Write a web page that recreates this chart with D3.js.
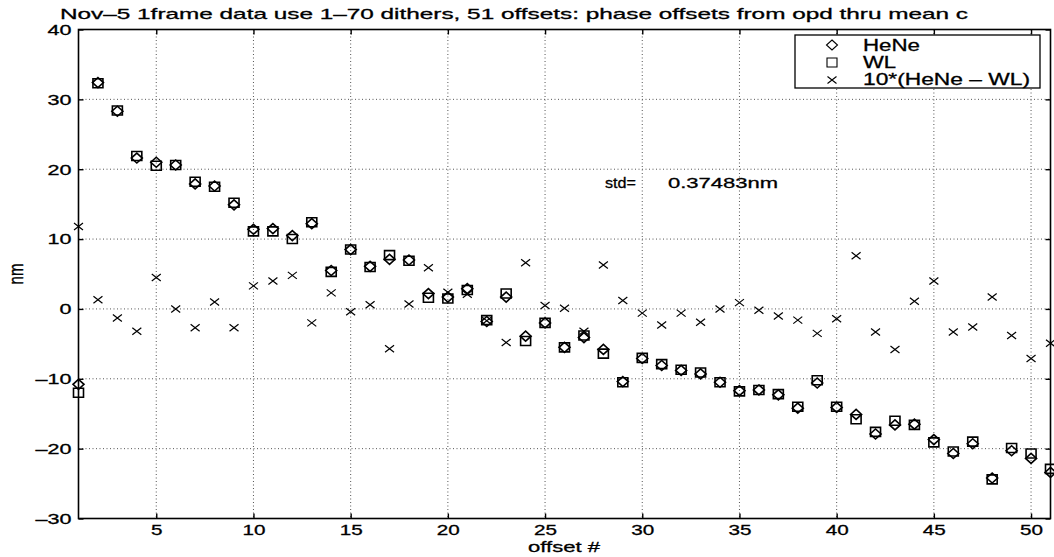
<!DOCTYPE html>
<html>
<head>
<meta charset="utf-8">
<script src="https://cdn.jsdelivr.net/npm/d3@7"></script>
<style>
  body { margin: 0; background: #fff; }
  svg { display: block; font-family: "Liberation Sans", Arial, sans-serif; }
</style>
</head>
<body>
<div id="chart"></div>
<script>

// values, offset # 1..51
var hene = [-10.8, 32.4, 28.3, 21.6, 21.0, 20.6, 17.9, 17.6, 14.9, 11.4,
            11.5, 10.5, 12.2, 5.5, 8.5, 6.1, 7.1, 7.0, 2.2, 1.7,
            2.9, -1.8, 1.7, -3.9, -2.0, -5.5, -4.1, -5.8, -10.4, -7.1,
            -8.1, -8.8, -9.3, -10.5, -11.7, -11.6, -12.3, -14.2, -10.6, -14.1,
            -15.1, -17.9, -16.6, -16.5, -18.7, -20.7, -19.3, -24.2, -20.3, -21.4,
            -23.4];
var wl   = [-12.0, 32.3, 28.4, 21.9, 20.5, 20.6, 18.2, 17.5, 15.2, 11.1,
            11.1, 10.0, 12.4, 5.3, 8.5, 6.0, 7.7, 6.9, 1.6, 1.5,
            2.7, -1.6, 2.2, -4.6, -2.0, -5.5, -3.8, -6.4, -10.5, -7.0,
            -7.9, -8.7, -9.1, -10.5, -11.8, -11.6, -12.2, -14.0, -10.2, -14.0,
            -15.8, -17.6, -16.0, -16.6, -19.1, -20.4, -19.0, -24.4, -19.9, -20.7,
            -22.9];
var diff10 = [11.8, 1.3, -1.3, -3.2, 4.5, 0.0, -2.7, 1.0, -2.7, 3.3,
              4.0, 4.8, -2.0, 2.3, -0.4, 0.6, -5.7, 0.7, 5.9, 2.4,
              2.1, -1.7, -4.8, 6.6, 0.5, 0.1, -3.2, 6.3, 1.2, -0.6,
              -2.3, -0.6, -1.9, 0.0, 0.9, -0.2, -1.0, -1.6, -3.5, -1.4,
              7.6, -3.3, -5.8, 1.1, 4.0, -3.3, -2.6, 1.7, -3.8, -7.1,
              -4.9];

var xTicks = [5, 10, 15, 20, 25, 30, 35, 40, 45, 50];
var yTicks = [-30, -20, -10, 0, 10, 20, 30, 40];
var legendLabels = ["HeNe", "WL", "10*(HeNe \u2013 WL)"];
var titleText = "Nov\u20135 1frame data use 1\u201370 dithers, 51 offsets: phase offsets from opd thru mean c";
var stdValue = "0.37483nm";

var width = 1054,
    height = 557,
    plotLeft = 78.5, plotRight = 1050.5, plotTop = 29.5, plotBottom = 518.5;

var svg = d3.select("#chart").append("svg")
    .attr("width", width)
    .attr("height", height);

var x = d3.scaleLinear().domain([1, 51]).range([plotLeft, plotRight]);
var y = d3.scaleLinear().domain([-30, 40]).range([plotBottom, plotTop]);

// dotted grid
var grid = svg.append("g")
    .style("stroke", "#555")
    .style("stroke-width", "1px")
    .style("stroke-dasharray", "1,2.5");

grid.selectAll("line.vx")
    .data(xTicks)
  .enter().append("line")
    .attr("class", "vx")
    .attr("x1", function(d) { return x(d); })
    .attr("x2", function(d) { return x(d); })
    .attr("y1", plotTop)
    .attr("y2", plotBottom);

grid.selectAll("line.hy")
    .data(yTicks.filter(function(d) { return d > -30 && d < 40; }))
  .enter().append("line")
    .attr("class", "hy")
    .attr("x1", plotLeft)
    .attr("x2", plotRight)
    .attr("y1", function(d) { return y(d); })
    .attr("y2", function(d) { return y(d); });

// axes, ticks pointing inward
function styleAxis(g) {
  g.select(".domain").remove();
  g.selectAll(".tick line").style("stroke", "#000").style("stroke-width", "1.4px");
  g.selectAll("text")
    .style("font-size", "15px")
    .style("fill", "#000")
    .style("stroke", "#000")
    .style("stroke-width", "0.3px")
    .attr("font-family", "Liberation Sans, Arial, sans-serif");
}

var fmt = function(d) { return d < 0 ? "\u2013" + Math.abs(d) : "" + d; };

var xAxis = svg.append("g")
    .attr("transform", "translate(0," + plotBottom + ")")
    .call(d3.axisBottom(x).tickValues(xTicks).tickSizeInner(-5).tickSizeOuter(0).tickPadding(6).tickFormat(fmt));
styleAxis(xAxis);
xAxis.selectAll("text")
    .attr("textLength", function(d) { return fmt(d).length * 11.5; })
    .attr("lengthAdjust", "spacingAndGlyphs");

var yAxis = svg.append("g")
    .attr("transform", "translate(" + plotLeft + ",0)")
    .call(d3.axisLeft(y).tickValues(yTicks).tickSizeInner(-5).tickSizeOuter(0).tickPadding(7).tickFormat(fmt));
styleAxis(yAxis);
yAxis.selectAll("text")
    .attr("textLength", function(d) { return fmt(d).length * 12; })
    .attr("lengthAdjust", "spacingAndGlyphs");

var topAxis = svg.append("g")
    .attr("transform", "translate(0," + plotTop + ")")
    .call(d3.axisTop(x).tickValues(xTicks).tickSizeInner(-5).tickSizeOuter(0).tickFormat(""));
styleAxis(topAxis);

var rightAxis = svg.append("g")
    .attr("transform", "translate(" + plotRight + ",0)")
    .call(d3.axisRight(y).tickValues(yTicks).tickSizeInner(-5).tickSizeOuter(0).tickFormat(""));
styleAxis(rightAxis);

svg.append("rect")
    .attr("x", plotLeft)
    .attr("y", plotTop)
    .attr("width", plotRight - plotLeft)
    .attr("height", plotBottom - plotTop)
    .style("fill", "none")
    .style("stroke", "#000")
    .style("stroke-width", "1.6px");

// marker shapes
function diamond(cx, cy) {
  return "M" + cx + "," + (cy - 5) + "L" + (cx + 5.5) + "," + cy + "L" + cx + "," + (cy + 5) + "L" + (cx - 5.5) + "," + cy + "Z";
}
function square(cx, cy) {
  return "M" + (cx - 5) + "," + (cy - 4.5) + "h10v9h-10Z";
}
function cross(cx, cy) {
  return "M" + (cx - 4.5) + "," + (cy - 3.5) + "L" + (cx + 4.5) + "," + (cy + 3.5) +
         "M" + (cx - 4.5) + "," + (cy + 3.5) + "L" + (cx + 4.5) + "," + (cy - 3.5);
}

var marks = svg.append("g")
    .style("fill", "none")
    .style("stroke", "#000")
    .style("stroke-width", "1.6px");

marks.selectAll("path.hene")
    .data(hene)
  .enter().append("path")
    .attr("class", "hene")
    .attr("d", function(d, i) { return diamond(x(i + 1), y(d)); });

marks.selectAll("path.wl")
    .data(wl)
  .enter().append("path")
    .attr("class", "wl")
    .attr("d", function(d, i) { return square(x(i + 1), y(d)); });

marks.selectAll("path.diff")
    .data(diff10)
  .enter().append("path")
    .attr("class", "diff")
    .style("stroke-width", "1.2px")
    .attr("d", function(d, i) { return cross(x(i + 1), y(d)); });

// text helper style: slightly heavy like the scan
function inked(sel, size) {
  return sel.style("font-size", size + "px")
    .style("fill", "#000")
    .style("stroke", "#000")
    .style("stroke-width", "0.3px");
}

// std annotation
var std = inked(svg.append("text").attr("y", 188), 15);
std.append("tspan")
    .attr("x", 605)
    .attr("textLength", 31)
    .attr("lengthAdjust", "spacingAndGlyphs")
    .text("std=");
std.append("tspan")
    .attr("x", 668)
    .attr("textLength", 110)
    .attr("lengthAdjust", "spacingAndGlyphs")
    .text(stdValue);

// legend
var legend = svg.append("g");
legend.append("rect")
    .attr("x", 795)
    .attr("y", 35)
    .attr("width", 245)
    .attr("height", 53)
    .style("fill", "#fff")
    .style("stroke", "#000")
    .style("stroke-width", "1.3px");

var legendShapes = [diamond, square, cross];
var legendWidths = [57, 33, 167];

legend.selectAll("path")
    .data(legendLabels)
  .enter().append("path")
    .attr("d", function(d, i) { return legendShapes[i](832, 45 + i * 17.5); })
    .style("fill", "none")
    .style("stroke", "#000")
    .style("stroke-width", "1.1px");

inked(legend.selectAll("text")
    .data(legendLabels)
  .enter().append("text")
    .attr("x", 863)
    .attr("y", function(d, i) { return 50.5 + i * 17.2; })
    .attr("textLength", function(d, i) { return legendWidths[i]; })
    .attr("lengthAdjust", "spacingAndGlyphs")
    .text(function(d) { return d; }), 16);

// title and axis labels
inked(svg.append("text")
    .attr("x", 60)
    .attr("y", 19)
    .attr("textLength", 908)
    .attr("lengthAdjust", "spacingAndGlyphs")
    .text(titleText), 15);

inked(svg.append("text")
    .attr("x", 528)
    .attr("y", 552)
    .attr("textLength", 72)
    .attr("lengthAdjust", "spacingAndGlyphs")
    .text("offset #"), 15);

inked(svg.append("text")
    .attr("transform", "translate(23,274) scale(1.4,1) rotate(-90)")
    .style("text-anchor", "middle")
    .text("nm"), 15);

</script>
</body>
</html>
